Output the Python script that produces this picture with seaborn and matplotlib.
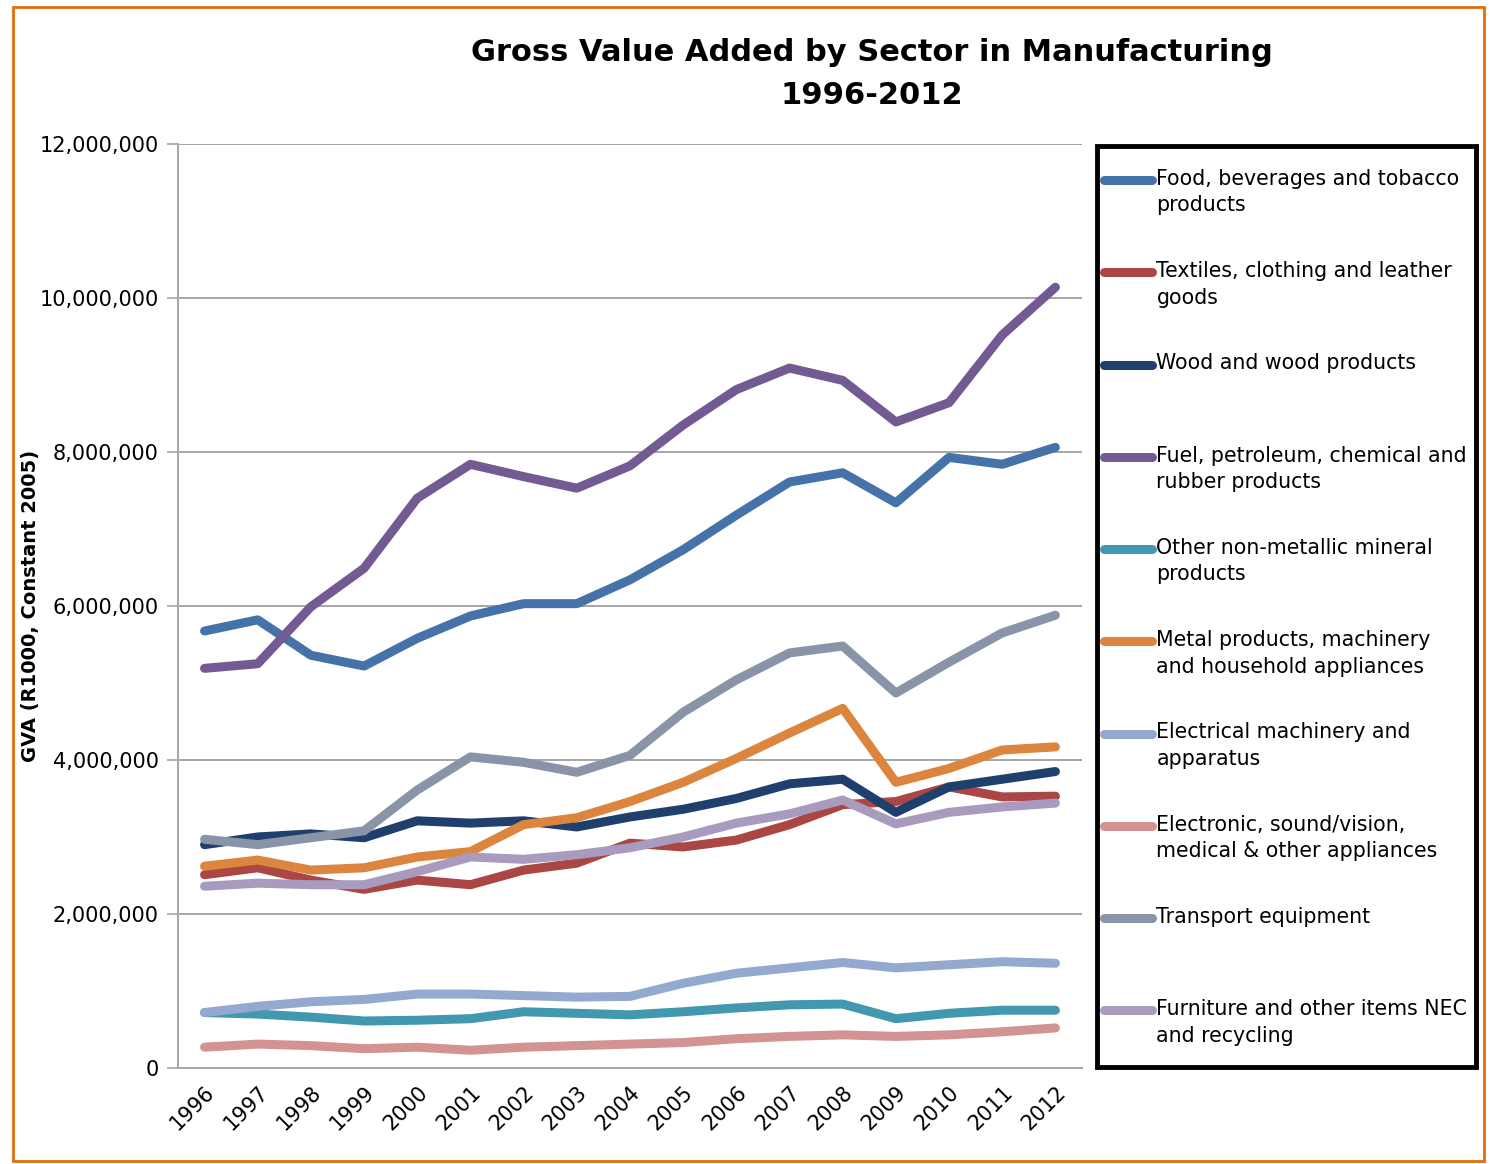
import matplotlib
matplotlib.use("Agg")
import matplotlib.pyplot as plt
import seaborn as sns
import pandas as pd
import numpy as np
from matplotlib.lines import Line2D
from matplotlib.patches import Rectangle
from matplotlib.ticker import FuncFormatter
from matplotlib.legend_handler import HandlerLine2D

years = list(range(1996, 2013))

sectors = [
    "Food, beverages and tobacco\nproducts",
    "Textiles, clothing and leather\ngoods",
    "Wood and wood products\n ",
    "Fuel, petroleum, chemical and\nrubber products",
    "Other non-metallic mineral\nproducts",
    "Metal products, machinery\nand household appliances",
    "Electrical machinery and\napparatus",
    "Electronic, sound/vision,\nmedical & other appliances",
    "Transport equipment\n ",
    "Furniture and other items NEC\nand recycling",
]

food = [5.675, 5.82, 5.36, 5.22, 5.58, 5.87, 6.03, 6.03, 6.34, 6.73, 7.18, 7.61, 7.73, 7.34, 7.93, 7.84, 8.06]
textiles = [2.51, 2.60, 2.44, 2.32, 2.44, 2.38, 2.57, 2.66, 2.92, 2.87, 2.96, 3.16, 3.42, 3.46, 3.65, 3.52, 3.53]
wood = [2.90, 3.00, 3.04, 2.99, 3.21, 3.18, 3.21, 3.13, 3.26, 3.36, 3.50, 3.69, 3.75, 3.32, 3.65, 3.75, 3.85]
fuel = [5.19, 5.25, 5.99, 6.49, 7.40, 7.84, 7.68, 7.53, 7.82, 8.35, 8.81, 9.09, 8.93, 8.39, 8.64, 9.52, 10.14]
nonmetallic = [0.72, 0.70, 0.66, 0.61, 0.62, 0.64, 0.73, 0.71, 0.69, 0.73, 0.78, 0.82, 0.83, 0.64, 0.71, 0.75, 0.75]
metal = [2.62, 2.70, 2.57, 2.60, 2.74, 2.81, 3.16, 3.25, 3.46, 3.71, 4.02, 4.35, 4.67, 3.71, 3.89, 4.13, 4.17]
electrical = [0.72, 0.80, 0.86, 0.89, 0.96, 0.96, 0.94, 0.92, 0.93, 1.10, 1.23, 1.30, 1.37, 1.30, 1.34, 1.38, 1.36]
electronic = [0.27, 0.31, 0.29, 0.25, 0.27, 0.23, 0.27, 0.29, 0.31, 0.33, 0.38, 0.41, 0.43, 0.41, 0.43, 0.47, 0.52]
transport = [2.97, 2.90, 2.99, 3.08, 3.61, 4.04, 3.97, 3.84, 4.06, 4.62, 5.04, 5.39, 5.48, 4.87, 5.27, 5.65, 5.88]
furniture = [2.36, 2.40, 2.38, 2.38, 2.55, 2.74, 2.71, 2.77, 2.86, 3.00, 3.18, 3.30, 3.48, 3.17, 3.32, 3.39, 3.44]

series = [food, textiles, wood, fuel, nonmetallic, metal, electrical, electronic, transport, furniture]

colors = ["#4573A9", "#AA4644", "#1F406C", "#735A92", "#4298AE", "#DB853E",
          "#93A9D0", "#D29392", "#8A94A9", "#A99BBE"]

yticks = [0, 2000000, 4000000, 6000000, 8000000, 10000000, 12000000]

rows = []
for name, vals in zip(sectors, series):
    for yr, v in zip(years, vals):
        rows.append({"Year": yr, "Sector": name, "GVA": v * 1e6})
df = pd.DataFrame(rows)

sns.set_theme(style="white")
plt.rcParams["font.family"] = ["DejaVu Sans"]
plt.rcParams["text.color"] = "black"
plt.rcParams["axes.labelcolor"] = "black"

fig = plt.figure(figsize=(14.93, 11.64), dpi=100)
ax = fig.add_axes([0.1192, 0.0825, 0.6055, 0.7938])

sns.lineplot(data=df, x="Year", y="GVA", hue="Sector", hue_order=sectors,
             palette=colors, linewidth=6.5, legend=False, ax=ax,
             solid_capstyle="round", solid_joinstyle="round")

ax.set_xlim(1995.5, 2012.5)
ax.set_ylim(0, 12000000)
ax.set_yticks(yticks)
ax.yaxis.set_major_formatter(FuncFormatter(lambda v, p: f"{int(v):,}"))
ax.set_xticks(years)
ax.set_xticklabels([str(y) for y in years], rotation=45, ha="right",
                   rotation_mode="anchor", fontsize=15)
ax.tick_params(axis="y", labelsize=15, length=8, width=1.2, color="#A6A6A6",
               labelcolor="black", direction="out", left=True, pad=6)
ax.tick_params(axis="x", length=0, pad=10, labelcolor="black")
ax.grid(axis="y", color="#A6A6A6", linewidth=1.4)
ax.set_axisbelow(True)
for s in ["top", "right"]:
    ax.spines[s].set_visible(False)
for s in ["left", "bottom"]:
    ax.spines[s].set_color("#A6A6A6")
    ax.spines[s].set_linewidth(1.4)
ax.set_xlabel("")
ax.set_ylabel("GVA (R1000, Constant 2005)", fontsize=14, fontweight="bold")
ax.yaxis.set_label_coords(-0.1525, 0.5)

fig.text(0.584, 0.9677, "Gross Value Added by Sector in Manufacturing\n1996-2012",
         ha="center", va="top", fontsize=22, fontweight="bold", linespacing=1.64,
         color="black")


class UpHandler(HandlerLine2D):
    def create_artists(self, legend, orig_handle, xdescent, ydescent, width,
                       height, fontsize, trans):
        return super().create_artists(legend, orig_handle, xdescent,
                                      ydescent - 1.25 * fontsize, width, height,
                                      fontsize, trans)


leg_fs = 14.8
handles = [Line2D([], [], color=c, linewidth=6.5, solid_capstyle="round") for c in colors]
leg = fig.legend(handles, sectors, loc="upper left",
                 bbox_to_anchor=(1104 / 1493, 1 - 169 / 1164), fontsize=leg_fs,
                 handlelength=2.35, handletextpad=0.2, labelspacing=2.23,
                 borderaxespad=0, borderpad=0, frameon=False,
                 handler_map={Line2D: UpHandler()})
for t in leg.get_texts():
    t.set_linespacing(1.4)

fig.patches.append(Rectangle((1097 / 1493, 1 - 1067 / 1164), 379 / 1493, 921 / 1164,
                             transform=fig.transFigure, fill=False,
                             edgecolor="black", linewidth=3.5))
fig.patches.append(Rectangle((0.009, 0.003), 0.985, 0.991, transform=fig.transFigure,
                             fill=False, edgecolor="#E46C0A", linewidth=2))

fig.savefig("out.png", dpi=100)
